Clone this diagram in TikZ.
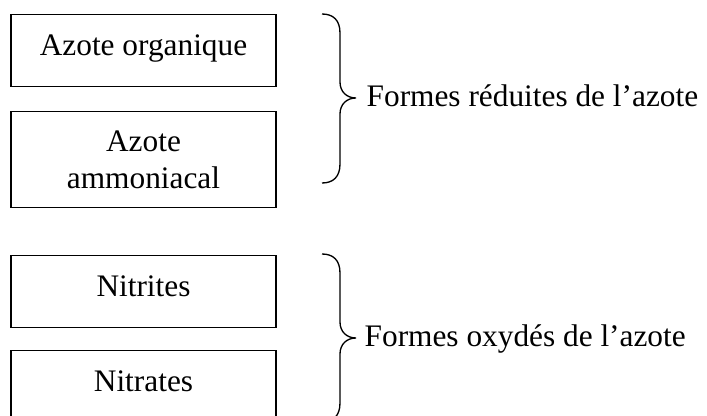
\documentclass[tikz,border=0pt]{standalone}
\usepackage{fontspec}
\setmainfont{Liberation Serif}

\tikzset{every picture/.style={line width=1pt}}
\tikzset{formbox/.style={draw, rectangle, inner xsep=0pt, inner ysep=0pt, minimum width=198.75pt, anchor=north, font=\fontsize{23.5pt}{27.75pt}\selectfont},
  oneline/.style={text height=30.75pt, text depth=23.25pt}}

\begin{document}
\begin{tikzpicture}[x=0.75pt,y=0.75pt,yscale=-1,xscale=1]
\useasboundingbox (0,0) rectangle (707,416);

%Shape: Rectangle [id:orga]
\node [formbox, oneline] (orga) at (143.5,14) {Azote organique};
%Shape: Rectangle [id:ammo]
\node [formbox, minimum height=72pt, align=center] (ammo) at (143.5,111) {Azote\\ammoniacal};
%Shape: Rectangle [id:nitri]
\node [formbox, oneline] (nitri) at (143.5,255) {Nitrites};
%Shape: Rectangle [id:nitra]
\node [formbox, oneline] (nitra) at (143.5,350) {Nitrates};

%Shape: Brace [id:reduc]
\draw    (322,14) .. controls (333,14) and (340,20) .. (340,33) -- (340,82) .. controls (340,92) and (347,98) .. (356,98) .. controls (347,98) and (340,104) .. (340,114) -- (340,164) .. controls (340,177) and (333,183) .. (322,183) ;
%Shape: Brace [id:oxyd]
\draw    (322,254) .. controls (333,254) and (340,260) .. (340,273) -- (340,322) .. controls (340,332) and (347,338) .. (356,338) .. controls (347,338) and (340,344) .. (340,354) -- (340,403) .. controls (340,416) and (333,422) .. (322,422) ;

% Text Node
\draw (366,107) node [anchor=base west][inner sep=0pt, font=\fontsize{23.5pt}{27.75pt}\selectfont] (reduit) {Formes réduites de l’azote};
% Text Node
\draw (364,347) node [anchor=base west][inner sep=0pt, font=\fontsize{23.5pt}{27.75pt}\selectfont] (oxyde) {Formes oxydés de l’azote};

\end{tikzpicture}
\end{document}
